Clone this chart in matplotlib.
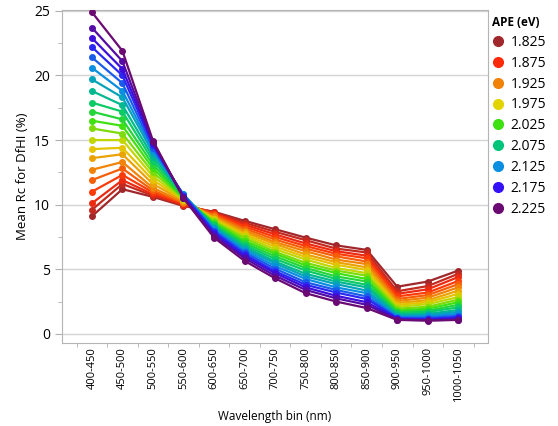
import matplotlib
matplotlib.use('Agg')
import matplotlib.pyplot as plt
from matplotlib.colors import LinearSegmentedColormap
from matplotlib.lines import Line2D
from matplotlib.ticker import MultipleLocator

plt.rcParams['font.family'] = ['Open Sans', 'DejaVu Sans']

bins = ['400-450', '450-500', '500-550', '550-600', '600-650', '650-700', '700-750',
        '750-800', '800-850', '850-900', '900-950', '950-1000', '1000-1050']

ape = [1.825, 1.845, 1.865, 1.885, 1.905, 1.925, 1.945, 1.965, 1.985, 2.005, 2.025,
       2.045, 2.065, 2.085, 2.105, 2.125, 2.145, 2.165, 2.185, 2.205, 2.225]

# one column per wavelength bin, values listed from APE 1.825 up to 2.225
rc_400 = [9.1, 9.6, 10.1, 11.0, 11.9, 12.7, 13.6, 14.3, 15.0, 15.9, 16.5, 17.2, 17.9, 18.8, 19.7, 20.6, 21.4, 22.2, 22.9, 23.7, 24.9]
rc_450 = [11.2, 11.6, 11.9, 12.3, 12.8, 13.3, 13.9, 14.4, 15.0, 15.5, 16.1, 16.6, 17.2, 17.7, 18.3, 18.8, 19.4, 20.0, 20.5, 21.1, 21.9]
rc_500 = [10.6, 10.7, 10.8, 10.95, 11.1, 11.3, 11.6, 11.9, 12.2, 12.5, 12.8, 13.1, 13.4, 13.7, 14.0, 14.2, 14.4, 14.6, 14.75, 14.85, 14.95]
rc_550 = [9.9, 9.95, 10.0, 10.1, 10.15, 10.2, 10.3, 10.35, 10.4, 10.5, 10.55, 10.6, 10.7, 10.75, 10.8, 10.8, 10.75, 10.7, 10.6, 10.55, 10.5]
rc_600 = [9.45, 9.4, 9.35, 9.3, 9.2, 9.1, 9.0, 8.9, 8.8, 8.7, 8.6, 8.5, 8.4, 8.3, 8.2, 8.1, 8.0, 7.9, 7.75, 7.6, 7.45]
rc_650 = [8.75, 8.6, 8.45, 8.3, 8.15, 8.0, 7.85, 7.7, 7.55, 7.4, 7.2, 7.05, 6.9, 6.75, 6.6, 6.45, 6.3, 6.15, 6.0, 5.85, 5.65]
rc_700 = [8.1, 7.9, 7.7, 7.5, 7.3, 7.1, 6.95, 6.75, 6.55, 6.35, 6.2, 6.0, 5.8, 5.6, 5.45, 5.25, 5.05, 4.85, 4.7, 4.5, 4.3]
rc_750 = [7.45, 7.25, 7.0, 6.8, 6.6, 6.4, 6.15, 5.95, 5.75, 5.5, 5.3, 5.1, 4.9, 4.65, 4.45, 4.25, 4.0, 3.8, 3.6, 3.4, 3.15]
rc_800 = [6.85, 6.6, 6.4, 6.2, 6.0, 5.75, 5.55, 5.35, 5.1, 4.9, 4.7, 4.45, 4.25, 4.05, 3.85, 3.6, 3.4, 3.2, 2.95, 2.75, 2.5]
rc_850 = [6.5, 6.3, 6.05, 5.85, 5.6, 5.4, 5.15, 4.95, 4.7, 4.5, 4.25, 4.05, 3.8, 3.6, 3.35, 3.15, 2.9, 2.7, 2.45, 2.25, 2.0]
rc_900 = [3.65, 3.3, 3.1, 2.9, 2.7, 2.55, 2.4, 2.25, 2.1, 1.95, 1.8, 1.7, 1.6, 1.5, 1.4, 1.3, 1.25, 1.2, 1.15, 1.1, 1.08]
rc_950 = [4.05, 3.7, 3.45, 3.2, 3.0, 2.8, 2.6, 2.45, 2.3, 2.1, 1.95, 1.8, 1.7, 1.55, 1.45, 1.35, 1.25, 1.15, 1.1, 1.05, 1.03]
rc_1000 = [4.9, 4.65, 4.4, 4.1, 3.85, 3.6, 3.35, 3.1, 2.85, 2.65, 2.45, 2.25, 2.05, 1.85, 1.7, 1.55, 1.4, 1.3, 1.2, 1.1, 1.08]

columns = [rc_400, rc_450, rc_500, rc_550, rc_600, rc_650, rc_700,
           rc_750, rc_800, rc_850, rc_900, rc_950, rc_1000]

legend_ape = ['1.825', '1.875', '1.925', '1.975', '2.025', '2.075', '2.125', '2.175', '2.225']
legend_colors = ['#a0282c', '#ff2a0a', '#f08208', '#e2d400', '#3ee010', '#00c47a',
                 '#0a8ee0', '#3210f8', '#6a0a72']

cmap = LinearSegmentedColormap.from_list('ape', legend_colors)
lo, hi = ape[0], ape[-1]

fig = plt.figure(figsize=(5.58, 4.26), dpi=100)
ax = fig.add_axes([0.111, 0.195, 0.764, 0.782])

x = list(range(len(bins)))
for i, a in enumerate(ape):
    y = [col[i] for col in columns]
    c = cmap((a - lo) / (hi - lo))
    ax.plot(x, y, color=c, lw=1.6, marker='o', ms=4, zorder=3)

ax.set_xlim(-0.98, 12.98)
ax.set_ylim(-0.7, 25.08)
ax.yaxis.set_major_locator(MultipleLocator(5))
ax.yaxis.set_minor_locator(MultipleLocator(2.5))
ax.grid(axis='y', which='major', color='#d4d4d4', lw=1)
ax.set_axisbelow(True)

ax.set_xticks(x)
ax.set_xticklabels(bins, rotation=90, fontsize=8)
ax.set_xticks([v - 0.5 for v in x] + [12.5], minor=True)
ax.tick_params(axis='x', which='major', length=0, pad=3)
ax.tick_params(axis='x', which='minor', length=3, color='#b0b0b0')
ax.tick_params(axis='y', which='both', color='#b0b0b0', labelsize=10)
ax.tick_params(axis='y', which='major', length=5)
ax.tick_params(axis='y', which='minor', length=3)

for s in ax.spines.values():
    s.set_color('#b4b4b4')

ax.set_xlabel('Wavelength bin (nm)', fontsize=8.5, labelpad=6)
ax.set_ylabel('Mean Rc for DfHI (%)', fontsize=9.5, labelpad=4)

handles = [Line2D([], [], ls='none', marker='o', ms=7, color=c) for c in legend_colors]
leg = fig.legend(handles, legend_ape, loc='upper left', bbox_to_anchor=(0.875, 0.972),
                 frameon=False, fontsize=10, title='APE (eV)', handlelength=0.8,
                 handletextpad=0.5, labelspacing=0.42, borderaxespad=0, borderpad=0.3)
leg.get_title().set_fontweight('bold')
leg.get_title().set_fontsize(8.5)
leg._legend_box.align = 'left'

fig.savefig('out.png', dpi=100)
